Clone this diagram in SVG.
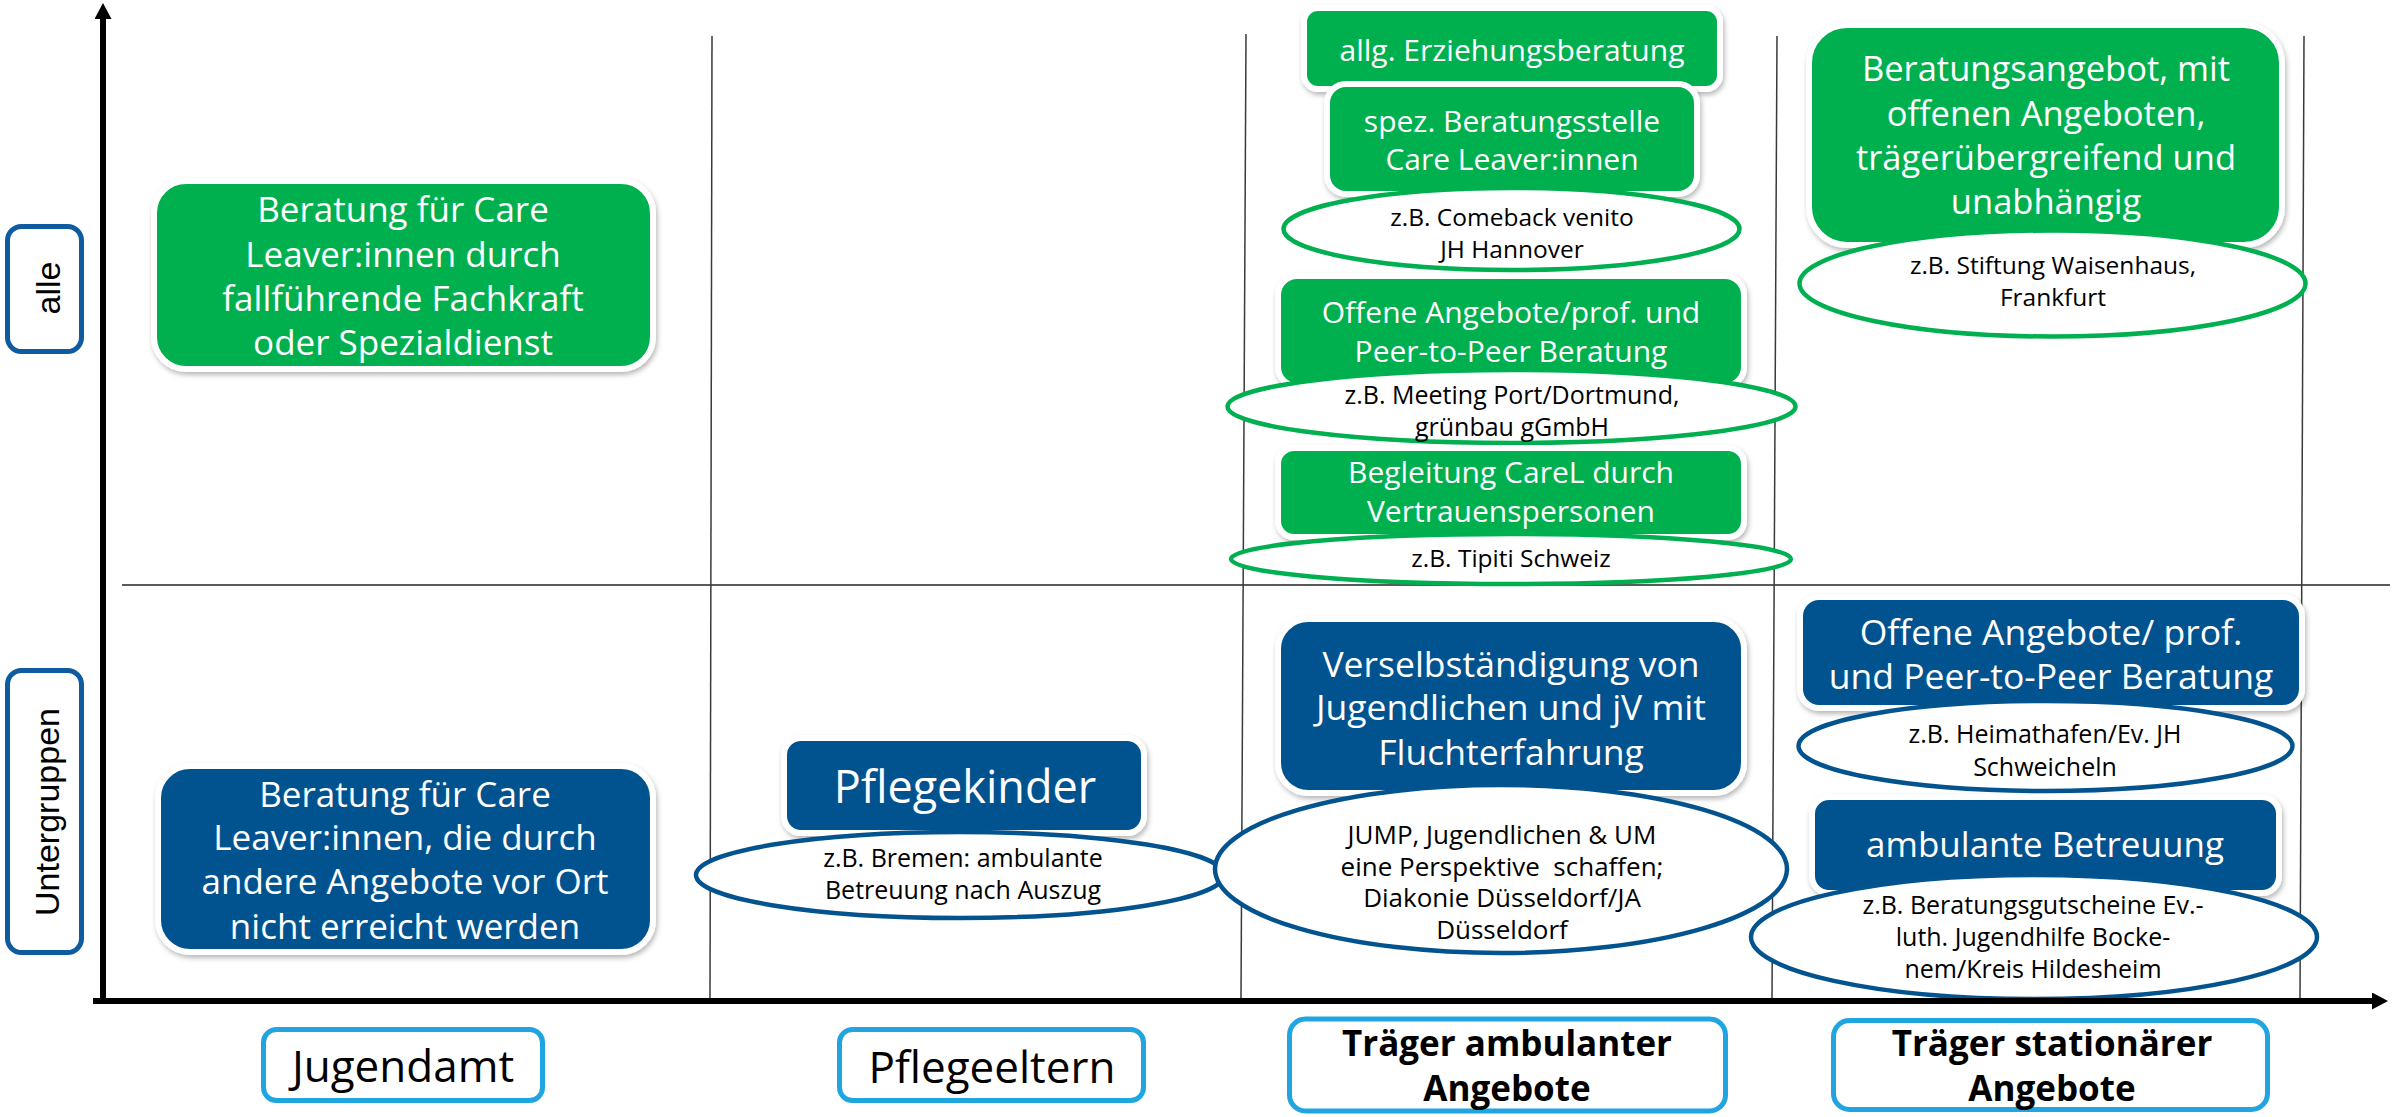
<svg xmlns="http://www.w3.org/2000/svg" width="2396" height="1117" viewBox="0 0 2396 1117">
<defs>
<filter id="sh" x="-10%" y="-15%" width="125%" height="140%">
<feDropShadow dx="1.5" dy="3" stdDeviation="2.5" flood-color="#000" flood-opacity="0.28"/>
</filter>
<marker id="arr" markerUnits="userSpaceOnUse" viewBox="0 0 16 17" refX="8" refY="8.5" markerWidth="16" markerHeight="17" orient="auto">
<path d="M0,0 L16,8.5 L0,17 z" fill="#000"/>
</marker>
<style>
.bg{fill:#00B050;stroke:#fff;stroke-width:6;filter:url(#sh)}
.bb{fill:#03538F;stroke:#fff;stroke-width:6;filter:url(#sh)}
.eg{fill:#fff;stroke:#00B050;stroke-width:4.5}
.eb{fill:#fff;stroke:#03538F;stroke-width:4.5}
.lb{fill:#fff;stroke:#21A5E0;stroke-width:5}
.sb{fill:#fff;stroke:#0E5BA0;stroke-width:5}
.tw{font-family:"Open Sans","Noto Sans",sans-serif;fill:#fff;text-anchor:middle}
.tk{font-family:"Open Sans","Noto Sans",sans-serif;fill:#000;text-anchor:middle}
.tb{font-family:"Open Sans","Noto Sans",sans-serif;fill:#000;text-anchor:middle;font-weight:bold}
.ta{font-family:"Liberation Sans",Arial,sans-serif;fill:#000;text-anchor:middle;font-size:34px}
.grid{stroke:#3a3a3a;stroke-width:1.5;fill:none}
.div{stroke:#5a5a5a;stroke-width:2;fill:none}
.axis{stroke:#000;stroke-width:6;fill:none}
</style>
</defs>
<rect width="2396" height="1117" fill="#fff"/>

<g id="grid">
<line class="div" x1="122" y1="585" x2="2390" y2="585"/>
<line class="grid" x1="712" y1="36" x2="710" y2="998"/>
<line class="grid" x1="1246" y1="34" x2="1241" y2="998"/>
<line class="grid" x1="1777" y1="36" x2="1772" y2="998"/>
<line class="grid" x1="2304" y1="36" x2="2300" y2="998"/>
</g>

<g id="row-alle">
<rect class="sb" x="7.5" y="226.5" width="74" height="125" rx="14"/>
<text class="ta" transform="translate(60,288) rotate(-90)" x="0" y="0">alle</text>
</g>
<g id="row-untergruppen">
<rect class="sb" x="7.5" y="670.5" width="74" height="282" rx="14"/>
<text class="ta" transform="translate(59,812) rotate(-90)" x="0" y="0">Untergruppen</text>
</g>

<g id="ja-alle">
<rect class="bg" x="154" y="181" width="499" height="188" rx="32"/>
<text class="tw" font-size="35"><tspan x="403" y="222">Beratung für Care</tspan><tspan x="403" y="267">Leaver:innen durch</tspan><tspan x="403" y="311">fallführende Fachkraft</tspan><tspan x="403" y="355">oder Spezialdienst</tspan></text>
</g>

<g id="ja-unter">
<rect class="bb" x="158" y="766" width="495" height="186" rx="32"/>
<text class="tw" font-size="35"><tspan x="405" y="807">Beratung für Care</tspan><tspan x="405" y="850">Leaver:innen, die durch</tspan><tspan x="405" y="894">andere Angebote vor Ort</tspan><tspan x="405" y="939">nicht erreicht werden</tspan></text>
</g>

<g id="pflegekinder">
<rect class="bb" x="784" y="738" width="360" height="95" rx="17"/>
<text class="tw" font-size="45" x="965" y="803">Pflegekinder</text>
</g>
<g id="ex-bremen">
<ellipse class="eb" cx="960" cy="875" rx="264" ry="43"/>
<text class="tk" font-size="25"><tspan x="963" y="867">z.B. Bremen: ambulante</tspan><tspan x="963" y="899">Betreuung nach Auszug</tspan></text>
</g>

<g id="allg">
<rect class="bg" x="1304" y="8" width="416" height="81" rx="14"/>
<text class="tw" font-size="30" x="1512" y="61">allg. Erziehungsberatung</text>
</g>
<g id="spez">
<rect class="bg" x="1327" y="84" width="370" height="110" rx="19"/>
<text class="tw" font-size="30"><tspan x="1512" y="132">spez. Beratungsstelle</tspan><tspan x="1512" y="170">Care Leaver:innen</tspan></text>
</g>
<g id="ex-comeback">
<ellipse class="eg" cx="1511.5" cy="229" rx="228" ry="41"/>
<text class="tk" font-size="24.5"><tspan x="1512" y="226">z.B. Comeback venito</tspan><tspan x="1512" y="258">JH Hannover</tspan></text>
</g>
<g id="offene-amb">
<rect class="bg" x="1278" y="276" width="466" height="110" rx="19"/>
<text class="tw" font-size="30"><tspan x="1511" y="323">Offene Angebote/prof. und</tspan><tspan x="1511" y="362">Peer-to-Peer Beratung</tspan></text>
</g>
<g id="ex-meeting">
<ellipse class="eg" cx="1511.5" cy="406.5" rx="284" ry="36.5"/>
<text class="tk" font-size="25"><tspan x="1512" y="404">z.B. Meeting Port/Dortmund,</tspan><tspan x="1512" y="436">grünbau gGmbH</tspan></text>
</g>
<g id="begleitung">
<rect class="bg" x="1278" y="448" width="466" height="89" rx="16"/>
<text class="tw" font-size="30"><tspan x="1511" y="483">Begleitung CareL durch</tspan><tspan x="1511" y="522">Vertrauenspersonen</tspan></text>
</g>
<g id="ex-tipiti">
<ellipse class="eg" cx="1511" cy="559" rx="280" ry="25"/>
<text class="tk" font-size="24.5" x="1511" y="567">z.B. Tipiti Schweiz</text>
</g>

<g id="verselb">
<rect class="bb" x="1278" y="619" width="466" height="174" rx="30"/>
<text class="tw" font-size="35.5"><tspan x="1511" y="677">Verselbständigung von</tspan><tspan x="1511" y="720">Jugendlichen und jV mit</tspan><tspan x="1511" y="765">Fluchterfahrung</tspan></text>
</g>
<g id="ex-jump">
<ellipse class="eb" cx="1501" cy="869" rx="286" ry="84"/>
<text class="tk" font-size="26" xml:space="preserve"><tspan x="1502" y="844">JUMP, Jugendlichen &amp; UM</tspan><tspan x="1502" y="876">eine Perspektive  schaffen;</tspan><tspan x="1502" y="907">Diakonie Düsseldorf/JA</tspan><tspan x="1502" y="939">Düsseldorf</tspan></text>
</g>

<g id="beratungsangebot">
<rect class="bg" x="1809" y="25" width="473" height="220" rx="38"/>
<text class="tw" font-size="34.5"><tspan x="2046" y="81">Beratungsangebot, mit</tspan><tspan x="2046" y="125.5">offenen Angeboten,</tspan><tspan x="2046" y="170">trägerübergreifend und</tspan><tspan x="2046" y="214">unabhängig</tspan></text>
</g>
<g id="ex-stiftung">
<ellipse class="eg" cx="2052.5" cy="283.5" rx="253" ry="53"/>
<text class="tk" font-size="24.5"><tspan x="2053" y="274">z.B. Stiftung Waisenhaus,</tspan><tspan x="2053" y="306">Frankfurt</tspan></text>
</g>

<g id="offene-stat">
<rect class="bb" x="1800" y="597" width="502" height="111" rx="19"/>
<text class="tw" font-size="35.5"><tspan x="2051" y="645">Offene Angebote/ prof.</tspan><tspan x="2051" y="689">und Peer-to-Peer Beratung</tspan></text>
</g>
<g id="ex-heimathafen">
<ellipse class="eb" cx="2045.5" cy="746" rx="247" ry="45"/>
<text class="tk" font-size="25"><tspan x="2045" y="743">z.B. Heimathafen/Ev. JH</tspan><tspan x="2045" y="776">Schweicheln</tspan></text>
</g>
<g id="ambulante">
<rect class="bb" x="1812" y="797" width="467" height="96" rx="17"/>
<text class="tw" font-size="35" x="2045" y="857">ambulante Betreuung</text>
</g>
<g id="ex-gutscheine">
<ellipse class="eb" cx="2034" cy="937" rx="283" ry="62"/>
<text class="tk" font-size="25"><tspan x="2033" y="914">z.B. Beratungsgutscheine Ev.-</tspan><tspan x="2033" y="946">luth. Jugendhilfe Bocke-</tspan><tspan x="2033" y="978">nem/Kreis Hildesheim</tspan></text>
</g>

<g id="lbl-jugendamt">
<rect class="lb" x="263.5" y="1029.5" width="279" height="71" rx="13"/>
<text class="tk" font-size="44" x="403" y="1082">Jugendamt</text>
</g>
<g id="lbl-pflegeeltern">
<rect class="lb" x="839.5" y="1029.5" width="304" height="71" rx="13"/>
<text class="tk" font-size="44" x="992" y="1083">Pflegeeltern</text>
</g>
<g id="lbl-ambulant">
<rect class="lb" x="1289.5" y="1019" width="436" height="92" rx="16"/>
<text class="tb" font-size="35"><tspan x="1507" y="1056">Träger ambulanter</tspan><tspan x="1507" y="1101">Angebote</tspan></text>
</g>
<g id="lbl-stationaer">
<rect class="lb" x="1833.5" y="1020.5" width="434" height="89" rx="16"/>
<text class="tb" font-size="35"><tspan x="2052" y="1056">Träger stationärer</tspan><tspan x="2052" y="1101">Angebote</tspan></text>
</g>

<g id="axes">
<line class="axis" x1="103" y1="1004" x2="103" y2="11" marker-end="url(#arr)"/>
<line class="axis" x1="93" y1="1001" x2="2380" y2="1001" marker-end="url(#arr)"/>
</g>
</svg>
